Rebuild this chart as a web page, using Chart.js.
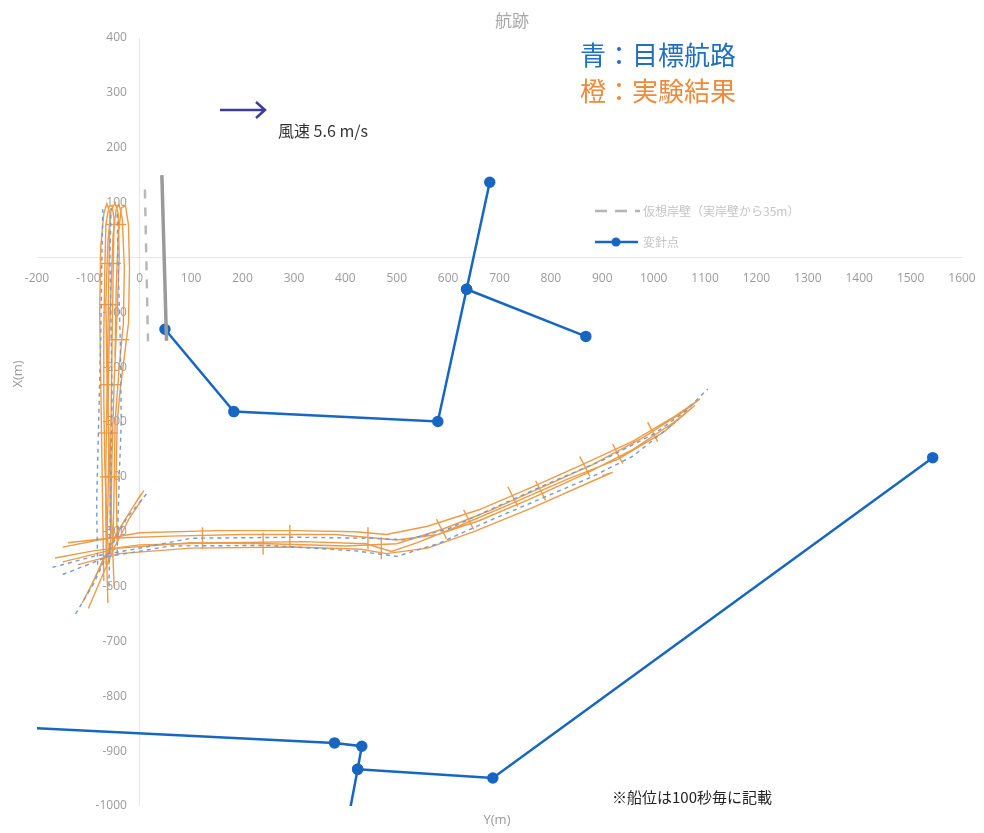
<!DOCTYPE html>
<html>
<head>
<meta charset="utf-8">
<script src="https://cdn.jsdelivr.net/npm/chart.js@4.4.1/dist/chart.umd.min.js"></script>
<style>
  html, body { margin: 0; padding: 0; background: #fff; }
</style>
</head>
<body>
<canvas id="track" width="984" height="833"></canvas>
<script>
// 岸壁 (actual wall) and 仮想岸壁 (35m offset)
const wall = [[43, 150], [52, -152]];
const virtualWall = [[10, 124], [16, -153]];

// 変針点 (waypoint polylines)
const routeTop = [[49, -131], [183, -281], [580, -299], [636, -58], [681, 137]];
const routeTopBranch = [[636, -58], [868, -144]];
const routeBottom = [[-205, -858], [379, -885], [432, -891], [424, -933], [408, -1012]];
const routeBottomBranch = [[424, -933], [687, -949], [1543, -365]];

// 目標航路 (blue dashed target tracks)
const targetV1 = [[-82, -560], [-84, -450], [-80, -300], [-76, -150], [-74, -20], [-72, 88]];
const targetV2 = [[-60, -600], [-58, -500], [-56, -380], [-54, -250], [-56, -120], [-58, 0], [-56, 90]];
const targetV3 = [[-44, -540], [-40, -400], [-36, -300], [-38, -150], [-42, -20], [-44, 80]];
const targetH1 = [[-170, -565], [-90, -545], [0, -530], [100, -512], [300, -510], [450, -512], [520, -515],
  [600, -495], [700, -452], [800, -410], [900, -370], [1000, -322], [1060, -282], [1105, -240]];
const targetH2 = [[-150, -578], [-60, -545], [60, -526], [250, -525], [420, -535], [500, -545], [580, -522],
  [680, -480], [780, -440], [880, -400], [960, -362], [1040, -302]];
const targetD = [[-125, -650], [-90, -595], [-60, -535], [-25, -475], [14, -430]];

// 実験結果 (orange measured tracks)
const runV1 = [[-60, -560], [-64, -480], [-68, -380], [-70, -260], [-70, -140], [-68, -20], [-66, 60], [-60, 92],
  [-54, 95], [-50, 70], [-52, -40], [-54, -160], [-56, -300], [-58, -440], [-56, -540]];
const runV2 = [[-50, -600], [-54, -500], [-58, -400], [-62, -280], [-60, -170], [-56, -60], [-52, 40], [-46, 88],
  [-40, 96], [-34, 70], [-30, -20], [-32, -120], [-40, -200], [-48, -300], [-50, -420], [-52, -520]];
const runV3 = [[-44, -520], [-46, -400], [-44, -300], [-38, -240], [-30, -180], [-22, -120], [-20, -20], [-22, 60],
  [-28, 95], [-36, 90], [-42, 40], [-46, -60], [-48, -180]];
const runV4 = [[-70, -590], [-72, -470], [-74, -350], [-76, -220], [-78, -100], [-76, 20], [-70, 80], [-64, 98],
  [-58, 80], [-60, -20], [-62, -140], [-64, -260], [-66, -380], [-66, -500], [-62, -630]];
const runV5 = [[-66, -560], [-62, -450], [-60, -330], [-64, -200], [-66, -80], [-62, 30], [-56, 85], [-48, 100],
  [-42, 80], [-40, 0], [-44, -100], [-50, -230], [-54, -360], [-56, -480]];
const runH1 = [[-150, -528], [-80, -515], [0, -502], [150, -498], [300, -498], [420, -500], [480, -505], [560, -490],
  [660, -460], [760, -420], [860, -378], [960, -335], [1040, -290], [1090, -258], [1060, -280], [980, -328],
  [880, -378], [780, -420], [680, -462], [590, -495], [500, -522], [400, -526], [250, -522], [100, -520],
  [-40, -530], [-150, -555]];
const runH2 = [[-165, -548], [-90, -535], [0, -524], [160, -520], [320, -518], [440, -522], [490, -536], [540, -520],
  [620, -490], [720, -450], [830, -405], [930, -368], [1020, -318], [1080, -270], [1040, -300], [960, -350],
  [870, -393], [760, -440], [660, -480], [580, -505], [500, -515], [380, -505], [200, -505], [60, -508],
  [-60, -512], [-140, -520]];
const runH3 = [[-120, -560], [-40, -540], [100, -530], [300, -528], [430, -532], [480, -540], [560, -530],
  [650, -500], [760, -458], [880, -408], [920, -392], [900, -398]];
const runD1 = [[-112, -630], [-90, -590], [-62, -535], [-30, -480], [0, -435], [8, -425], [-10, -450], [-40, -495],
  [-70, -548], [-100, -610]];
const runD2 = [[-100, -640], [-75, -585], [-50, -530], [-20, -475], [5, -440]];

// 100秒毎の船位
const fixesFlat = [[122, -512], [292, -508], [444, -512], [240, -522], [470, -530]];
const fixesSlope = [[587, -495], [726, -436], [866, -381], [998, -318], [640, -478], [780, -425], [930, -358]];
const fixesVert = [[-56, -11], [-60, -86], [-40, -150], [-58, -232], [-62, -320], [-58, -400], [-46, 60]];

const ORANGE = "#ef9a46";
const BLUE = "#1766c2";
const DASHBLUE = "#6f9bd8";

function target(data) {
  return { data, showLine: true, borderColor: DASHBLUE, borderWidth: 1.4, borderDash: [4, 4], pointRadius: 0 };
}
function run(data) {
  return { data, showLine: true, borderColor: ORANGE, borderWidth: 1.4, pointRadius: 0 };
}
function route(data, radii) {
  return { data, showLine: true, borderColor: BLUE, borderWidth: 2.5, pointRadius: radii || 4.5,
    pointBackgroundColor: BLUE, pointBorderColor: BLUE };
}
function fixes(data, rot, r) {
  return { data, showLine: false, pointStyle: "line", rotation: rot, pointRadius: r,
    borderColor: ORANGE, borderWidth: 1.4 };
}

const overlay = {
  id: "overlay",
  afterDraw(chart) {
    const ctx = chart.ctx;
    ctx.save();
    ctx.textBaseline = "middle";

    ctx.fillStyle = "#a8a8a8";
    ctx.font = '17px "Noto Sans CJK JP"';
    ctx.textAlign = "center";
    ctx.fillText("航跡", 512, 21);

    ctx.fillStyle = "#9a9a9a";
    ctx.font = '13px "Open Sans"';
    ctx.fillText("Y(m)", 497, 820);
    ctx.save();
    ctx.translate(18, 374);
    ctx.rotate(-Math.PI / 2);
    ctx.fillText("X(m)", 0, 0);
    ctx.restore();

    ctx.textAlign = "left";
    ctx.font = '26px "Noto Sans CJK JP"';
    ctx.fillStyle = "#1f6fc3";
    ctx.fillText("青：目標航路", 580, 55);
    ctx.fillStyle = "#ee8a3a";
    ctx.fillText("橙：実験結果", 580, 91);

    // wind arrow
    ctx.strokeStyle = "#3c3c9c";
    ctx.lineWidth = 2.5;
    ctx.beginPath();
    ctx.moveTo(220, 110); ctx.lineTo(264, 110);
    ctx.moveTo(256, 102); ctx.lineTo(265, 110); ctx.lineTo(256, 118);
    ctx.stroke();
    ctx.fillStyle = "#333";
    ctx.font = '16px "Noto Sans CJK JP"';
    ctx.fillText("風速 5.6 m/s", 278, 131);

    // legend
    ctx.strokeStyle = "#b5b5b5";
    ctx.lineWidth = 2.5;
    ctx.setLineDash([12, 8]);
    ctx.beginPath(); ctx.moveTo(595, 211); ctx.lineTo(640, 211); ctx.stroke();
    ctx.setLineDash([]);
    ctx.strokeStyle = BLUE;
    ctx.beginPath(); ctx.moveTo(595, 242); ctx.lineTo(638, 242); ctx.stroke();
    ctx.fillStyle = BLUE;
    ctx.beginPath(); ctx.arc(616, 242, 4.5, 0, Math.PI * 2); ctx.fill();
    ctx.fillStyle = "#c4c4c4";
    ctx.font = '12px "Noto Sans CJK JP"';
    ctx.fillText("仮想岸壁（実岸壁から35m）", 643, 211);
    ctx.fillText("変針点", 643, 242);

    ctx.fillStyle = "#222";
    ctx.font = '15px "Noto Sans CJK JP"';
    ctx.fillText("※船位は100秒毎に記載", 612, 797);
    ctx.restore();
  }
};

const tickFont = { family: "Open Sans", size: 12 };
const zeroLine = c => (c.tick && c.tick.value === 0 ? "#e6e6e6" : "rgba(0,0,0,0)");

new Chart(document.getElementById("track"), {
  type: "scatter",
  data: {
    datasets: [
      target(targetV1), target(targetV2), target(targetV3), target(targetH1), target(targetH2), target(targetD),
      run(runV1), run(runV2), run(runV3), run(runV4), run(runV5), run(runH1), run(runH2), run(runH3),
      run(runD1), run(runD2),
      fixes(fixesFlat, 90, 11), fixes(fixesSlope, 63, 11), fixes(fixesVert, 0, 10),
      { data: wall, showLine: true, borderColor: "#9a9a9a", borderWidth: 3.5, pointRadius: 0 },
      { data: virtualWall, showLine: true, borderColor: "#b8b8b8", borderWidth: 2.5, borderDash: [9, 9], pointRadius: 0 },
      route(routeTop), route(routeTopBranch),
      route(routeBottom, [0, 4.5, 4.5, 4.5, 0]), route(routeBottomBranch)
    ]
  },
  options: {
    responsive: false,
    animation: false,
    layout: { padding: { left: 37, right: 22, top: 38, bottom: 27 } },
    plugins: { legend: { display: false }, tooltip: { enabled: false } },
    scales: {
      x: {
        type: "linear", min: -200, max: 1600, position: { y: 0 },
        grid: { display: true, drawTicks: true, tickLength: 11, color: zeroLine },
        border: { color: "#e6e6e6" },
        ticks: { stepSize: 100, color: "#9a9a9a", font: tickFont, padding: 3, maxRotation: 0, autoSkip: false,
          callback: v => String(v) },
        afterFit: s => { s.height = 0; }
      },
      y: {
        type: "linear", min: -1000, max: 400, position: { x: -25 },
        grid: { display: true, drawTicks: false, color: zeroLine },
        border: { display: false },
        ticks: { stepSize: 100, color: "#9a9a9a", font: tickFont,
          callback: v => (v === 0 ? "" : String(v)) },
        afterFit: s => { s.width = 0; }
      }
    }
  },
  plugins: [overlay]
});
</script>
</body>
</html>
